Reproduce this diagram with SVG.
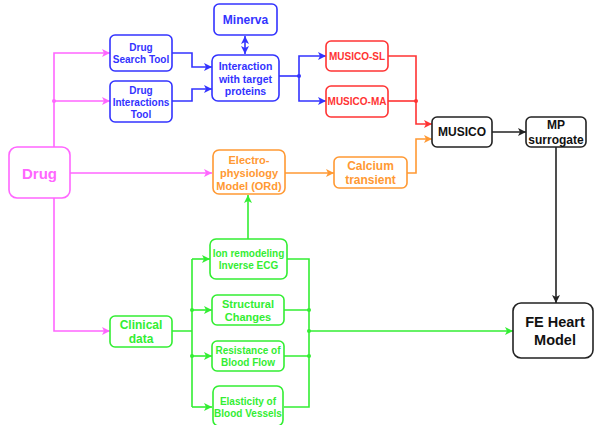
<svg xmlns="http://www.w3.org/2000/svg" width="595" height="425" viewBox="0 0 595 425">
<style>
text{font-family:"Liberation Sans",Arial,sans-serif;font-weight:bold;text-anchor:middle;dominant-baseline:central}
.box{fill:#fff;stroke-width:1.6}
.m{stroke:#ff66ff}.mt{fill:#ff66ff}
.b{stroke:#3333ff}.bt{fill:#3333ff}
.r{stroke:#ff3333}.rt{fill:#ff3333}
.o{stroke:#ff9933}.ot{fill:#ff9933}
.g{stroke:#33ee33}.gt{fill:#33ee33}
.k{stroke:#222}.kt{fill:#111}
.ln{fill:none;stroke-width:1.6}
</style>
<defs>
<marker id="am" viewBox="0 0 8 8" refX="8" refY="4" markerWidth="8" markerHeight="8" markerUnits="userSpaceOnUse" orient="auto"><path d="M0,0L8,4L0,8L2,4z" fill="#ff66ff"/></marker>
<marker id="ab" viewBox="0 0 8 8" refX="8" refY="4" markerWidth="8" markerHeight="8" markerUnits="userSpaceOnUse" orient="auto-start-reverse"><path d="M0,0L8,4L0,8L2,4z" fill="#3333ff"/></marker>
<marker id="ar" viewBox="0 0 8 8" refX="8" refY="4" markerWidth="8" markerHeight="8" markerUnits="userSpaceOnUse" orient="auto"><path d="M0,0L8,4L0,8L2,4z" fill="#ff3333"/></marker>
<marker id="ao" viewBox="0 0 8 8" refX="8" refY="4" markerWidth="8" markerHeight="8" markerUnits="userSpaceOnUse" orient="auto"><path d="M0,0L8,4L0,8L2,4z" fill="#ff9933"/></marker>
<marker id="ag" viewBox="0 0 8 8" refX="8" refY="4" markerWidth="8" markerHeight="8" markerUnits="userSpaceOnUse" orient="auto"><path d="M0,0L8,4L0,8L2,4z" fill="#33ee33"/></marker>
<marker id="ak" viewBox="0 0 8 8" refX="8" refY="4" markerWidth="8" markerHeight="8" markerUnits="userSpaceOnUse" orient="auto"><path d="M0,0L8,4L0,8L2,4z" fill="#222"/></marker>
</defs>
<rect width="595" height="425" fill="#fff"/>
<g id="connectors">
<path class="ln m" d="M54,147V53H110" marker-end="url(#am)"/>
<path class="ln m" d="M54,101H110" marker-end="url(#am)"/>
<path class="ln m" d="M70,173H212" marker-end="url(#am)"/>
<path class="ln m" d="M54,198V331H110" marker-end="url(#am)"/>
<circle cx="54" cy="101" r="2" fill="#ff66ff"/>
<path class="ln b" d="M172,53H192V67H212" marker-end="url(#ab)"/>
<path class="ln b" d="M172,101H192V89H212" marker-end="url(#ab)"/>
<path class="ln b" d="M245,36V54" marker-start="url(#ab)" marker-end="url(#ab)"/>
<path class="ln b" d="M279,76H299"/>
<path class="ln b" d="M299,76V56H326" marker-end="url(#ab)"/>
<path class="ln b" d="M299,76V101H326" marker-end="url(#ab)"/>
<circle cx="299" cy="76" r="2" fill="#3333ff"/>
<path class="ln r" d="M388,56H416V124H432" marker-end="url(#ar)"/>
<path class="ln r" d="M388,101H416"/>
<circle cx="416" cy="101" r="2" fill="#ff3333"/>
<path class="ln o" d="M285,173H334" marker-end="url(#ao)"/>
<path class="ln o" d="M407,173H416V139H432" marker-end="url(#ao)"/>
<path class="ln k" d="M492,132H526" marker-end="url(#ak)"/>
<path class="ln k" d="M556,147V303" marker-end="url(#ak)"/>
<path class="ln g" d="M248,239V195" marker-end="url(#ag)"/>
<path class="ln g" d="M172,331H192M192,259V407"/>
<path class="ln g" d="M192,259H210" marker-end="url(#ag)"/>
<path class="ln g" d="M192,310H212" marker-end="url(#ag)"/>
<path class="ln g" d="M192,356H212" marker-end="url(#ag)"/>
<path class="ln g" d="M192,407H212" marker-end="url(#ag)"/>
<circle cx="192" cy="310" r="2" fill="#33ee33"/>
<circle cx="192" cy="356" r="2" fill="#33ee33"/>
<path class="ln g" d="M287,259H309V407H284M284,310H309M284,356H309"/>
<path class="ln g" d="M309,331H513" marker-end="url(#ag)"/>
<circle cx="309" cy="310" r="2" fill="#33ee33"/>
<circle cx="309" cy="331" r="2" fill="#33ee33"/>
<circle cx="309" cy="356" r="2" fill="#33ee33"/>
</g>
<g id="drug"><rect class="box m" x="9" y="147" width="61" height="51" rx="8"/><text class="mt" x="39.5" y="173" font-size="15">Drug</text></g>
<g id="search"><rect class="box b" x="110" y="35" width="62" height="36" rx="5"/><text class="bt" font-size="10" x="141" y="47">Drug</text><text class="bt" font-size="10" x="141" y="59.5">Search Tool</text></g>
<g id="interactions"><rect class="box b" x="110" y="81" width="62" height="41" rx="5"/><text class="bt" font-size="10" x="141" y="90">Drug</text><text class="bt" font-size="10" x="141" y="102">Interactions</text><text class="bt" font-size="10" x="141" y="114">Tool</text></g>
<g id="minerva"><rect class="box b" x="214" y="4" width="63" height="31" rx="5"/><text class="bt" font-size="12" x="245.5" y="20">Minerva</text></g>
<g id="target"><rect class="box b" x="212" y="55" width="67" height="46" rx="6"/><text class="bt" font-size="10.5" x="245.5" y="66">Interaction</text><text class="bt" font-size="10.5" x="245.5" y="79">with target</text><text class="bt" font-size="10.5" x="245.5" y="91">proteins</text></g>
<g id="musico-sl"><rect class="box r" x="326" y="41" width="62" height="30" rx="5"/><text class="rt" font-size="10" x="357" y="56">MUSICO-SL</text></g>
<g id="musico-ma"><rect class="box r" x="326" y="86" width="62" height="31" rx="5"/><text class="rt" font-size="10" x="357" y="101.5">MUSICO-MA</text></g>
<g id="musico"><rect class="box k" x="432" y="117" width="60" height="30" rx="5"/><text class="kt" font-size="12" x="462" y="132">MUSICO</text></g>
<g id="mp"><rect class="box k" x="526" y="117" width="60" height="30" rx="5"/><text class="kt" font-size="12" x="556" y="125">MP</text><text class="kt" font-size="12" x="556" y="139.5">surrogate</text></g>
<g id="electro"><rect class="box o" x="213" y="150" width="72" height="44" rx="6"/><text class="ot" font-size="11" x="249" y="159.5">Electro-</text><text class="ot" font-size="11" x="249" y="172.5">physiology</text><text class="ot" font-size="11" x="249" y="185.5">Model (ORd)</text></g>
<g id="calcium"><rect class="box o" x="334" y="157" width="73" height="31" rx="5"/><text class="ot" font-size="12" x="370.5" y="166">Calcium</text><text class="ot" font-size="12" x="370.5" y="180">transient</text></g>
<g id="clinical"><rect class="box g" x="110" y="316" width="62" height="31" rx="5"/><text class="gt" font-size="12" x="141" y="324.5">Clinical</text><text class="gt" font-size="12" x="141" y="338.5">data</text></g>
<g id="ion"><rect class="box g" x="210" y="239" width="77" height="40" rx="6"/><text class="gt" font-size="10" x="248.5" y="253.5">Ion remodeling</text><text class="gt" font-size="10" x="248.5" y="265.5">Inverse ECG</text></g>
<g id="structural"><rect class="box g" x="212" y="295" width="72" height="30" rx="5"/><text class="gt" font-size="11" x="248" y="303.5">Structural</text><text class="gt" font-size="11" x="248" y="317">Changes</text></g>
<g id="resistance"><rect class="box g" x="212" y="341" width="72" height="30" rx="5"/><text class="gt" font-size="10" x="248" y="350">Resistance of</text><text class="gt" font-size="10" x="248" y="362.5">Blood Flow</text></g>
<g id="elasticity"><rect class="box g" x="213" y="386" width="70" height="40" rx="6"/><text class="gt" font-size="10" x="248" y="401.5">Elasticity of</text><text class="gt" font-size="10" x="248" y="413.5">Blood Vessels</text></g>
<g id="fe"><rect class="box k" x="513" y="303" width="80" height="55" rx="8"/><text class="kt" font-size="14.5" x="555" y="321.5">FE Heart</text><text class="kt" font-size="14.5" x="555" y="339.5">Model</text></g>
</svg>
